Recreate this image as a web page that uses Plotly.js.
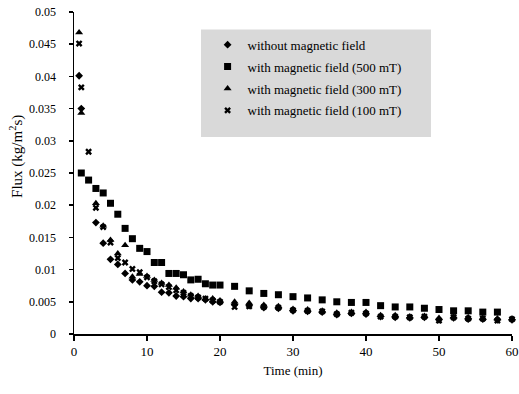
<!DOCTYPE html>
<html>
<head>
<meta charset="utf-8">
<script src="https://cdn.plot.ly/plotly-3.0.1.min.js"></script>
<style>html,body{margin:0;padding:0;background:#fff}#chart{width:519px;height:394px}</style>
</head>
<body>
<div id="chart"></div>
<script>
// Time points (min)
const tLow = [0.7,1,3,4,5,6,7,8,9,10,11,12,13,14,15,16,17,18,19,20,22,24,26,28,30,32,34,36,38,40,42,44,46,48,50,52,54,56,58,60];
const tX = [0.7,1,2,3,4,5,6,7,8,9,10,11,12,13,14,15,16,17,18,19,20,22,24,26,28,30,32,34,36,38,40,42,44,46,48,50,52,54,56,58,60];
const tSq = [1,2,3,4,5,6,7,8,9,10,11,12,13,14,15,16,17,18,19,20,22,24,26,28,30,32,34,36,38,40,42,44,46,48,50,52,54,56,58];

const fluxNone = [0.0401,0.0350,0.0173,0.0141,0.0116,0.0108,0.0094,0.0084,0.0081,0.0075,0.0074,0.0065,0.0064,0.0059,0.0058,0.0055,0.0055,0.0053,0.0050,0.0049,0.0046,0.0044,0.0041,0.0040,0.0036,0.0035,0.0034,0.0030,0.0032,0.0031,0.0027,0.0026,0.0025,0.0026,0.0022,0.0025,0.0023,0.0023,0.0022,0.0022];
const flux500 = [0.0250,0.0239,0.0226,0.0219,0.0203,0.0186,0.0164,0.0148,0.0133,0.0128,0.0111,0.0111,0.0094,0.0094,0.0092,0.0084,0.0085,0.0078,0.0076,0.0076,0.0074,0.0067,0.0063,0.0061,0.0058,0.0056,0.0053,0.0050,0.0049,0.0049,0.0044,0.0042,0.0042,0.0040,0.0038,0.0036,0.0036,0.0034,0.0034];
const flux300 = [0.0468,0.0343,0.0203,0.0168,0.0146,0.0125,0.0138,0.0089,0.0093,0.0090,0.0084,0.0079,0.0076,0.0072,0.0066,0.0061,0.0059,0.0055,0.0055,0.0052,0.0050,0.0048,0.0045,0.0043,0.0039,0.0038,0.0036,0.0033,0.0034,0.0034,0.0029,0.0029,0.0027,0.0028,0.0025,0.0027,0.0026,0.0025,0.0024,0.0024];
const flux100 = [0.0451,0.0383,0.0283,0.0196,0.0166,0.0142,0.0118,0.0111,0.0101,0.0096,0.0088,0.0082,0.0077,0.0073,0.0068,0.0064,0.0059,0.0057,0.0055,0.0052,0.0050,0.0042,0.0043,0.0042,0.0041,0.0037,0.0036,0.0035,0.0031,0.0033,0.0032,0.0027,0.0027,0.0026,0.0027,0.0021,0.0026,0.0024,0.0024,0.0021,0.0023];

const yTickVals = [0,0.005,0.01,0.015,0.02,0.025,0.03,0.035,0.04,0.045,0.05];
const yTickText = ["0","0.005","0.01","0.015","0.02","0.025","0.03","0.035","0.04","0.045","0.05"];
const xTickVals = [0,10,20,30,40,50,60];
const xTickText = ["0","10","20","30","40","50","60"];

const serif = "'Liberation Serif', 'Times New Roman', Times, serif";

const traces = [
  {x: tLow, y: fluxNone, name: "without magnetic field", legendgroup: "a", cliponaxis: false,
   mode: "markers", type: "scatter", marker: {symbol: "diamond", size: 6, color: "#000"}},
  {x: tSq, y: flux500, name: "with magnetic field (500 mT)", legendgroup: "b", cliponaxis: false,
   mode: "markers", type: "scatter", marker: {symbol: "square", size: 7, color: "#000"}},
  {x: tLow, y: flux300, name: "with magnetic field (300 mT)", legendgroup: "c", cliponaxis: false,
   mode: "markers", type: "scatter", marker: {symbol: "triangle-up", size: 7, color: "#000"}},
  {x: tX, y: flux100, name: "with magnetic field (100 mT)", legendgroup: "d", cliponaxis: false,
   mode: "markers", type: "scatter", marker: {symbol: "x", size: 6, color: "#000"}}
];

const layout = {
  width: 519, height: 394,
  margin: {l: 74, r: 7, t: 12, b: 60},
  paper_bgcolor: "#fff", plot_bgcolor: "#fff",
  font: {family: serif, color: "#000"},
  showlegend: true,
  legend: {x: 0.305, y: 0.945, xanchor: "left", yanchor: "top", bgcolor: "rgba(0,0,0,0)",
           font: {family: serif, size: 13, color: "#000"}, traceorder: "grouped", tracegroupgap: 2},
  xaxis: {range: [0, 60], tickmode: "array", tickvals: xTickVals, ticktext: xTickText,
          ticklabeloverflow: "allow", showgrid: false, zeroline: false,
          showline: true, linecolor: "#000", linewidth: 1.5, ticks: "outside", ticklen: 5,
          tickcolor: "#000", tickwidth: 1.5, tickfont: {family: serif, size: 13},
          title: {text: "Time (min)", font: {family: serif, size: 13}, standoff: 8}},
  yaxis: {range: [0, 0.05], tickmode: "array", tickvals: yTickVals, ticktext: yTickText, showgrid: false, zeroline: false,
          showline: true, linecolor: "#000", linewidth: 1.5, ticks: "outside", ticklen: 4,
          ticklabelstandoff: 10,
          tickcolor: "#000", tickwidth: 1.5, tickfont: {family: serif, size: 12}},
  shapes: [{type: "rect", xref: "paper", yref: "paper", x0: 0.290, x1: 0.815, y0: 0.612, y1: 0.946,
            fillcolor: "#d9d9d9", line: {width: 0}, layer: "below"}],
  annotations: [{text: "Flux (kg/m<sup>2</sup>s)", xref: "paper", yref: "paper",
                 x: -0.13, y: 0.55, xanchor: "center", yanchor: "middle", textangle: -90,
                 showarrow: false, font: {family: serif, size: 15, color: "#000"}}]
};

Plotly.newPlot("chart", traces, layout, {displayModeBar: false, staticPlot: true});
</script>
</body>
</html>
